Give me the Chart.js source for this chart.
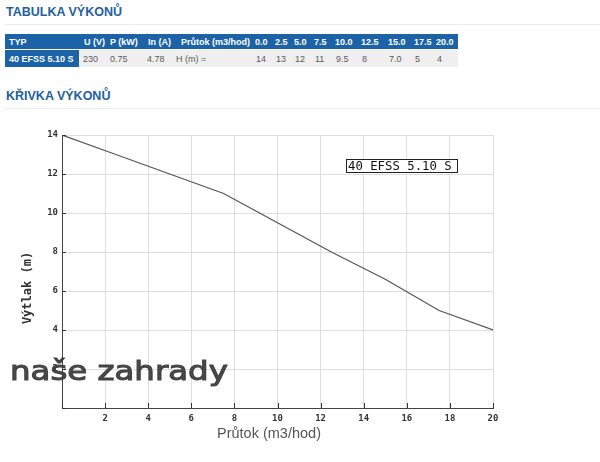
<!DOCTYPE html>
<html>
<head>
<meta charset="utf-8">
<script src="https://cdn.jsdelivr.net/npm/chart.js@4"></script>
<style>
html,body{margin:0;padding:0;background:#fff;width:600px;height:462px;overflow:hidden;}
.hd{position:absolute;left:6px;font:bold 12.5px 'Liberation Sans',Arial,sans-serif;color:#23609e;}
.sep{position:absolute;left:5px;width:595px;height:1px;background:#ececec;}
#tbl{position:absolute;left:5px;top:34px;border-collapse:collapse;table-layout:fixed;width:453px;font:9px 'Liberation Sans',Arial,sans-serif;}
#tbl td{padding:0 0 0 4px;white-space:nowrap;overflow:visible;}
#tbl tr.h td{background:#1b63a6;color:#fff;font-weight:bold;height:15px;border-bottom:1px solid #fff;}
#tbl tr.r td{background:#efefef;color:#5a5a5a;height:17px;}
#tbl tr.r td.typ{background:#1b63a6;color:#fff;font-weight:bold;}
#c{position:absolute;left:0;top:0;}
</style>
</head>
<body>
<div class="hd" style="top:5px">TABULKA VÝKONŮ</div>
<div class="sep" style="top:24px"></div>
<table id="tbl"></table>
<div class="hd" style="top:89px">KŘIVKA VÝKONŮ</div>
<div class="sep" style="top:108px"></div>
<canvas id="c" width="600" height="462"></canvas>
<script>
// ---- data ----
const seriesName = '40 EFSS 5.10 S';
const tableHeaders = ['TYP', 'U (V)', 'P (kW)', 'In (A)', 'Průtok (m3/hod)'];
const tableFlows = ['0.0', '2.5', '5.0', '7.5', '10.0', '12.5', '15.0', '17.5', '20.0'];
const tableRow = ['40 EFSS 5.10 S', '230', '0.75', '4.78', 'H (m) ='];
const tableHeads = ['14', '13', '12', '11', '9.5', '8', '7.0', '5', '4'];
const flow = [0, 2.5, 5, 7.5, 10, 12.5, 15, 17.5, 20];
const head = [14, 13, 12, 11, 9.5, 8, 6.6, 5, 4];
const xTitle = 'Průtok (m3/hod)';
const yTitle = 'Výtlak (m)';
const watermark = 'naše zahrady';

// ---- table ----
const colW = [74, 27, 37, 31, 78, 20, 19, 20, 21, 26, 27, 26, 22, 25];
const tbl = document.getElementById('tbl');
const cg = document.createElement('colgroup');
colW.forEach(w => { const c = document.createElement('col'); c.style.width = w + 'px'; cg.appendChild(c); });
tbl.appendChild(cg);
const tr1 = document.createElement('tr'); tr1.className = 'h';
tableHeaders.concat(tableFlows).forEach((t, i) => {
  const td = document.createElement('td'); td.textContent = t;
  if (i === 1 || i === 3) td.style.paddingLeft = '5px';
  if (i === 4) td.style.paddingLeft = '7px';
  if (i >= 5) td.style.paddingLeft = '3px';
  tr1.appendChild(td);
});
tbl.appendChild(tr1);
const tr2 = document.createElement('tr'); tr2.className = 'r';
tableRow.concat(tableHeads).forEach((t, i) => {
  const td = document.createElement('td'); td.textContent = t;
  if (i === 0) td.className = 'typ';
  if (i === 4) td.style.paddingLeft = '2px';
  tr2.appendChild(td);
});
tbl.appendChild(tr2);

// ---- chart ----
const extras = {
  id: 'extras',
  afterDraw(chart) {
    const ctx = chart.ctx;
    const xs = chart.scales.x, ys = chart.scales.y;
    ctx.save();
    // inner tick marks
    ctx.strokeStyle = '#333'; ctx.lineWidth = 1;
    ctx.beginPath();
    xs.ticks.forEach(t => {
      const px = Math.round(xs.getPixelForValue(t.value)) + 0.5;
      ctx.moveTo(px, ys.bottom); ctx.lineTo(px, ys.bottom - 5);
    });
    ys.ticks.forEach(t => {
      const py = Math.round(ys.getPixelForValue(t.value)) + 0.5;
      ctx.moveTo(xs.left, py); ctx.lineTo(xs.left + 4, py);
    });
    ctx.stroke();
    // axis titles
    ctx.fillStyle = '#555';
    ctx.font = '14.5px "Liberation Sans", Arial, sans-serif';
    ctx.textAlign = 'center'; ctx.textBaseline = 'middle';
    ctx.fillText(xTitle, 269, 434);
    ctx.save();
    ctx.translate(28, 288); ctx.rotate(-Math.PI / 2);
    ctx.fillStyle = '#333';
    ctx.font = 'bold 12px "DejaVu Sans Mono", monospace';
    ctx.fillText(yTitle, 0, 0);
    ctx.restore();
    // legend box
    ctx.fillStyle = '#fff';
    ctx.fillRect(346, 159, 111, 14);
    ctx.strokeStyle = '#222';
    ctx.strokeRect(346.5, 159.5, 111, 13);
    ctx.fillStyle = '#111';
    ctx.font = '12.3px "DejaVu Sans Mono", monospace';
    ctx.textAlign = 'left';
    ctx.fillText(seriesName, 348, 166.5);
    // watermark
    ctx.save();
    ctx.translate(10, 380);
    ctx.scale(1.2, 1);
    ctx.fillStyle = 'rgba(60,60,60,0.92)';
    ctx.strokeStyle = 'rgba(60,60,60,0.92)';
    ctx.lineWidth = 1.1;
    ctx.font = '27px "DejaVu Sans", sans-serif';
    ctx.textBaseline = 'alphabetic';
    ctx.fillText(watermark, 0, 0);
    ctx.strokeText(watermark, 0, 0);
    ctx.restore();
    ctx.restore();
  }
};

const tickFont = { family: '"DejaVu Sans Mono", monospace', size: 9, weight: 'bold' };
new Chart(document.getElementById('c'), {
  type: 'line',
  data: {
    datasets: [{
      label: seriesName,
      data: flow.map((f, i) => ({ x: f, y: head[i] })),
      borderColor: '#555',
      borderWidth: 1.2,
      pointRadius: 0,
      tension: 0,
      fill: false
    }]
  },
  options: {
    responsive: false,
    animation: false,
    devicePixelRatio: 1,
    layout: { padding: { top: 135, right: 107, left: 0, bottom: 0 } },
    plugins: { legend: { display: false }, tooltip: { enabled: false } },
    scales: {
      x: {
        type: 'linear', min: 0, max: 20,
        afterFit(s) { s.height = 54; },
        grid: { color: '#dedede', drawTicks: false },
        border: { color: '#444', width: 1 },
        ticks: { stepSize: 2, padding: 5, color: '#333', font: tickFont, maxRotation: 0,
          callback: v => v === 0 ? '' : String(v) }
      },
      y: {
        type: 'linear', min: 0, max: 14,
        afterFit(s) { s.width = 62; },
        grid: { color: '#dedede', drawTicks: false },
        border: { color: '#444', width: 1 },
        ticks: { stepSize: 2, padding: 4, color: '#333', font: tickFont,
          callback: v => v === 0 ? '' : String(v) }
      }
    }
  },
  plugins: [extras]
});
</script>
</body>
</html>
